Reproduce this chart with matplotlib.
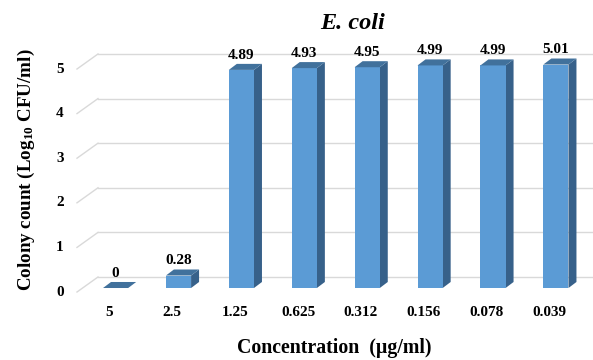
import matplotlib
matplotlib.use('Agg')
import matplotlib.pyplot as plt
from matplotlib.patches import Polygon

# data
concentrations = ['5', '2.5', '1.25', '0.625', '0.312', '0.156', '0.078', '0.039']
colony_counts = [0, 0.28, 4.89, 4.93, 4.95, 4.99, 4.99, 5.01]
yticks = [0, 1, 2, 3, 4, 5]

plt.rcParams['font.family'] = 'Liberation Serif'
plt.rcParams['font.weight'] = 'bold'
plt.rcParams['mathtext.fontset'] = 'custom'
plt.rcParams['mathtext.rm'] = 'Liberation Serif:bold'
plt.rcParams['mathtext.bf'] = 'Liberation Serif:bold'
plt.rcParams['mathtext.default'] = 'rm'

FRONT = '#5b9bd5'
TOP = '#41719c'
SIDE = '#37618a'
GRID = '#d9d9d9'

# fake 3d geometry (data units)
bar_w = 0.40
dx, dy = 0.127, 0.135          # bar depth
wall_dx, wall_dy = 0.334, 0.337  # grid/wall depth from front wall to back
front_off = -0.09                # front wall lies slightly below bar fronts

fig = plt.figure(figsize=(5.93, 3.6), dpi=100)
ax = fig.add_axes([0, 0, 1, 1])
ax.set_xlim(-1.838, 7.590)
ax.set_ylim(-1.614, 6.457)
ax.axis('off')

x_wall = -0.614
for v in yticks:
    yf = v + front_off
    ax.plot([x_wall, x_wall + wall_dx], [yf, yf + wall_dy], color=GRID, lw=1, zorder=1)
    ax.plot([x_wall + wall_dx, 7.6], [yf + wall_dy, yf + wall_dy], color=GRID, lw=1, zorder=1)
    ax.text(-0.884, yf, str(v), ha='center', va='center', fontsize=11, fontweight='bold')

for i, (lab, v) in enumerate(zip(concentrations, colony_counts)):
    l, r = i - bar_w / 2, i + bar_w / 2
    if v > 0:
        ax.add_patch(Polygon([(r, 0), (r + dx, dy), (r + dx, v + dy), (r, v)],
                             closed=True, fc=SIDE, ec='none', zorder=3))
        ax.add_patch(Polygon([(l, 0), (r, 0), (r, v), (l, v)],
                             closed=True, fc=FRONT, ec='none', zorder=3))
    ax.add_patch(Polygon([(l, v), (r, v), (r + dx, v + dy), (l + dx, v + dy)],
                         closed=True, fc=TOP, ec='none', zorder=3))
    ax.text(i, v + 0.33, f'{v:g}' if v == 0 else f'{v:.2f}', ha='center', va='center',
            fontsize=11, fontweight='bold', zorder=4)
    ax.text(i - 0.1, -0.54, lab, ha='center', va='center', fontsize=11, fontweight='bold')

fig.text(0.595, 0.936, 'E. coli', ha='center', va='center', fontsize=17.5,
         fontweight='bold', fontstyle='italic')
fig.text(0.044, 0.528, r'Colony count (Log$_{10}$ CFU/ml)', ha='center', va='center',
         rotation=90, fontsize=13.7, fontweight='bold')
fig.text(0.564, 0.033, 'Concentration  (µg/ml)', ha='center', va='center',
         fontsize=14.3, fontweight='bold')

fig.savefig('out.png', dpi=100, facecolor='white')
